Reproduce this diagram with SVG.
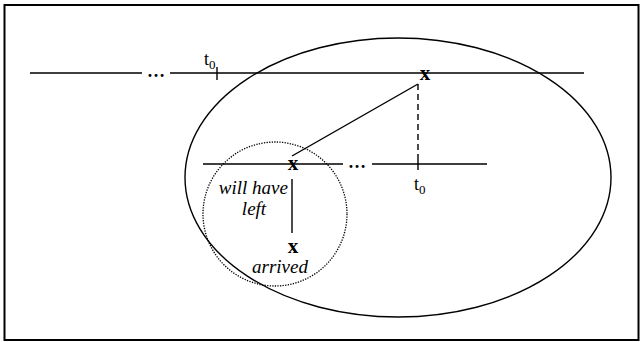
<svg xmlns="http://www.w3.org/2000/svg" width="643" height="342" viewBox="0 0 643 342">
<style>
.ln{stroke:#000;stroke-width:1.4;fill:none}
.t{font-family:"Liberation Serif",serif;font-size:18px;fill:#000}
.d{font-family:"Liberation Serif",serif;font-size:18px;font-weight:bold;fill:#000}
.b{font-family:"Liberation Serif",serif;font-size:21px;font-weight:bold;fill:#000}
.i{font-family:"Liberation Serif",serif;font-size:19px;font-style:italic;fill:#000}
.s{font-size:13px}
</style>
<rect x="0" y="0" width="643" height="342" fill="#fff"/>
<rect x="4.5" y="5" width="634" height="335" fill="none" stroke="#000" stroke-width="2"/>
<g id="big-ellipse"><ellipse cx="398" cy="177.5" rx="213" ry="139.5" class="ln" stroke-width="1.6"/></g>
<g id="dotted-circle"><circle cx="275" cy="214" r="72" fill="none" stroke="#000" stroke-width="1.3" stroke-dasharray="1.3 1.3"/></g>
<g id="connectors">
<path class="ln" d="M30 73H142M170 73H584"/>
<path class="ln" d="M217 67V80"/>
<path class="ln" d="M203 164H343M372 164H487"/>
<path class="ln" d="M418 156V170"/>
<path class="ln" d="M418 84V156" stroke-dasharray="6 4"/>
<path class="ln" d="M418 84L292 156"/>
<path class="ln" d="M292 179V233"/>
</g>
<g id="dots-top"><text class="d" x="156" y="77" text-anchor="middle">…</text></g>
<g id="dots-mid"><text class="d" x="357" y="168" text-anchor="middle">…</text></g>
<g id="t0-top"><text class="t" x="204" y="65">t<tspan class="s" dy="4">0</tspan></text></g>
<g id="t0-mid"><text class="t" x="414" y="190">t<tspan class="s" dy="4">0</tspan></text></g>
<g id="x-top"><text class="b" x="425" y="80" text-anchor="middle">x</text></g>
<g id="x-mid"><text class="b" x="293" y="170" text-anchor="middle">x</text></g>
<g id="x-low"><text class="b" x="293" y="253" text-anchor="middle">x</text></g>
<g id="label-will"><text class="i" x="288" y="194" text-anchor="end">will have</text></g>
<g id="label-left"><text class="i" x="254" y="215" text-anchor="middle">left</text></g>
<g id="label-arrived"><text class="i" x="280" y="273" text-anchor="middle">arrived</text></g>
</svg>
